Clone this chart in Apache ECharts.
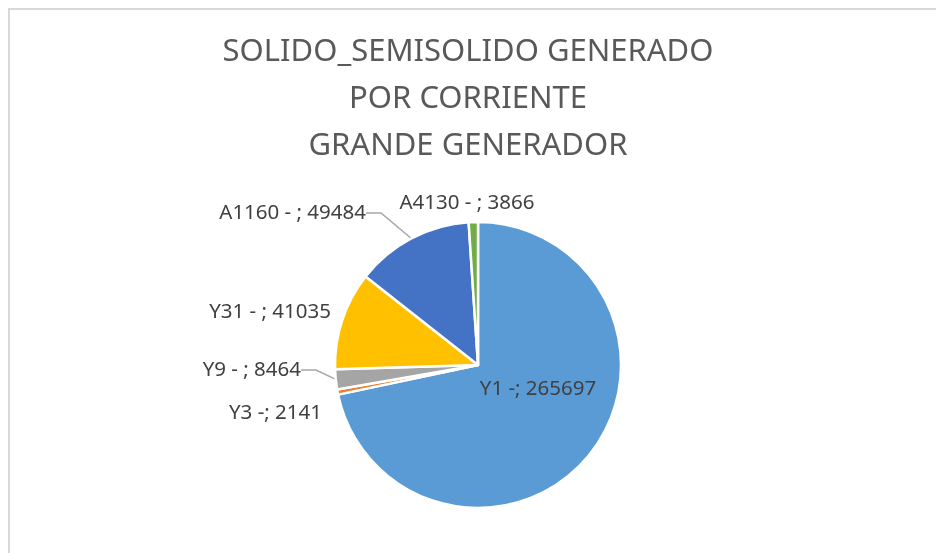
<!DOCTYPE html>
<html>
<head>
<meta charset="utf-8">
<script src="https://cdn.jsdelivr.net/npm/echarts@6/dist/echarts.min.js"></script>
<style>
  html, body { margin: 0; padding: 0; background: #fff; }
  #frame { position: absolute; left: 8px; top: 8px; width: 940px; height: 560px;
           border-left: 2px solid #d9d9d9; border-top: 2px solid #d9d9d9; }
  #main { position: absolute; left: 0; top: 0; width: 936px; height: 553px; }
</style>
</head>
<body>
<div id="frame"></div>
<div id="main"></div>
<script>
const titleLines = ['SOLIDO_SEMISOLIDO GENERADO', 'POR CORRIENTE', 'GRANDE GENERADOR']
const categories = ['Y1 -', 'Y3 -', 'Y9 - ', 'Y31 - ', 'A1160 - ', 'A4130 - ']
const values = [265697, 2141, 8464, 41035, 49484, 3866]
const colors = ['#5B9BD5', '#ED7D31', '#A5A5A5', '#FFC000', '#4472C4', '#70AD47']

// where each label sits (text anchor), and whether it gets a leader line
const labelSpots = [
  { x: 538, y: 389, align: 'center' },
  { x: 322, y: 413, align: 'right' },
  { x: 301, y: 370, align: 'right' },
  { x: 331, y: 312, align: 'right' },
  { x: 366, y: 213, align: 'right' },
  { x: 467, y: 203, align: 'center' }
]
const withLine = [false, false, true, false, true, false]

const chart = echarts.init(document.getElementById('main'), null, { renderer: 'canvas' })

const pieData = categories.map((name, i) => ({
  name: name,
  value: values[i],
  itemStyle: { color: colors[i] },
  labelLine: { show: withLine[i] }
}))

chart.setOption({
  animation: false,
  title: {
    text: titleLines.join('\n'),
    left: 'center',
    top: 24,
    textStyle: {
      fontFamily: 'Noto Sans',
      fontWeight: 'normal',
      fontSize: 31,
      lineHeight: 47,
      color: '#595959'
    }
  },
  series: [{
    type: 'pie',
    center: [478, 365],
    radius: 143,
    startAngle: 90,
    clockwise: true,
    avoidLabelOverlap: false,
    itemStyle: { borderColor: '#fff', borderWidth: 2.5 },
    label: {
      show: true,
      formatter: '{b}; {c}',
      fontFamily: 'Noto Sans',
      fontSize: 20.5,
      color: '#404040'
    },
    labelLine: {
      lineStyle: { color: '#a6a6a6', width: 1.5 },
      length: 10,
      length2: 15
    },
    labelLayout: function (p) {
      const s = labelSpots[p.dataIndex]
      return { x: s.x, y: s.y, align: s.align, verticalAlign: 'middle' }
    },
    data: pieData
  }]
})
</script>
</body>
</html>
